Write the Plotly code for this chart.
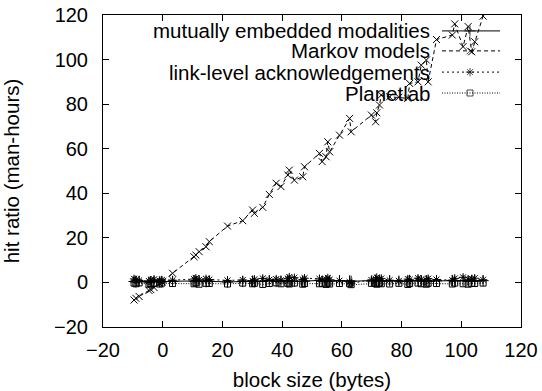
import plotly.graph_objects as go

# shared block sizes (bytes)
block_size = [-9.6, -9.0, -7.9, -4.6, -4.0, -2.9, -1.0, -0.3, 3.3, 10.5, 11.1, 12.2, 14.5, 15.6,
              21.7, 26.8, 30.1, 30.7, 33.5, 35.7, 38.0, 39.6, 41.9, 42.4, 44.1, 46.9, 47.5,
              52.5, 53.4, 54.7, 55.3, 55.9, 59.2, 62.6, 63.1, 69.9, 71.3, 71.7, 72.6, 73.2,
              76.0, 79.1, 82.1, 82.7, 85.5, 86.6, 88.3, 88.9, 91.7, 97.0, 97.8, 100.6, 102.3,
              103.5, 104.5, 107.3]

mutually_embedded = [0.4, 0.2, 0.5, 0.1, 0.3, 0.4, 0.2, 0.3, 0.5, 0.6,
                     0.4, 0.7, 0.3, 0.5, 0.2, 0.4, 0.6, 0.3, 0.5, 0.8,
                     0.4, 0.6, 0.3, 0.7, 0.5, 0.4, 0.6, 0.9, 0.5, 0.7,
                     0.4, 0.6, 0.8, 0.7, 0.5, 0.6, 0.9, 0.4, 0.7, 0.5,
                     0.8, 0.6, 0.5, 0.9, 0.7, 0.6, 0.8, 0.5, 0.7, 0.9,
                     0.6, 0.8, 0.5, 0.7, 0.6, 0.8]

markov_models = [-7.9, -7.1, -6.3, -3.6, -3.2, -2.3, -0.6, 0.3, 4.1, 11.5, 12.3, 13.8, 16.0, 18.3,
                 25.3, 27.7, 32.5, 31.0, 33.7, 39.5, 44.5, 43.0, 48.2, 50.4, 45.9, 47.4, 51.9,
                 57.9, 54.2, 56.4, 63.1, 58.6, 66.1, 73.6, 67.6, 75.1, 72.1, 76.1, 79.6, 84.1,
                 83.3, 83.1, 82.6, 89.3, 90.0, 97.5, 99.8, 90.0, 109.0, 111.0, 116.0, 105.8,
                 114.8, 103.5, 108.0, 119.5]

link_level = [1.6, 1.2, 0.9, 0.6, 1.0, 1.4, 0.8, 1.1, 1.0, 1.5,
              1.9, 1.2, 1.6, 1.3, 0.9, 1.1, 0.7, 1.4, 1.8, 1.2,
              1.5, 1.0, 1.7, 2.4, 2.1, 1.3, 1.9, 1.6, 1.0, 1.4,
              2.0, 1.2, 0.8, 0.2, -0.4, 1.1, 1.6, 2.2, 1.3, 1.8,
              1.0, 0.7, 1.5, 1.2, 1.9, 1.4, 1.1, 1.7, 1.3, 1.0,
              1.8, 2.3, 1.4, 1.6, 1.9, 1.2]

planetlab = [-0.3, -0.6, -0.2, -0.8, -0.5, -0.4, -0.7, -0.3, -0.5, -0.6,
             -0.2, -0.8, -0.4, -0.5, -0.7, -0.3, -0.6, -0.4, -0.9, -0.5,
             -0.2, -0.6, -0.4, -0.7, -0.3, -0.8, -0.5, -0.6, -0.4, -0.9,
             -0.3, -0.7, -0.5, -0.6, -1.0, -0.4, -0.5, -0.8, -0.3, -0.6,
             -0.7, -0.4, -0.9, -0.5, -0.3, -0.6, -0.8, -0.4, -0.5, -0.7,
             -0.3, -0.6, -0.8, -0.4, -0.5, -0.3]

series_names = ["mutually embedded modalities", "Markov models",
                "link-level acknowledgements", "Planetlab"]
x_ticks = [-20, 0, 20, 40, 60, 80, 100, 120]
y_ticks = [-20, 0, 20, 40, 60, 80, 100, 120]

FONT = "Liberation Sans, Arial, Helvetica, sans-serif"
TICK_FS = 20
TITLE_FS = 20.5
KEY_FS = 20.5

styles = [
    dict(dash="solid", symbol="cross-thin-open", size=8),
    dict(dash="4px,3px", symbol="x-thin-open", size=7),
    dict(dash="2px,3px", symbol="asterisk-open", size=7),
    dict(dash="1px,1.5px", symbol="square-open", size=6),
]
values = [mutually_embedded, markov_models, link_level, planetlab]

fig = go.Figure()
for name, ys, st in zip(series_names, values, styles):
    fig.add_trace(go.Scatter(
        x=block_size, y=ys, mode="lines+markers", name=name, showlegend=False,
        line=dict(color="black", width=1, dash=st["dash"]),
        marker=dict(symbol=st["symbol"], size=st["size"], color="black",
                    line=dict(color="black", width=1)),
    ))

# gnuplot-style key: right-aligned text with the line sample to its right
key_text_x = 0.785
key_line = (0.811, 0.878, 0.950)
key_rows = [0.949, 0.885, 0.817, 0.750]
for name, st, ky in zip(series_names, styles, key_rows):
    fig.add_trace(go.Scatter(
        x=list(key_line), y=[ky] * 3, xaxis="x2", yaxis="y2",
        mode="lines+markers", showlegend=False, hoverinfo="skip",
        line=dict(color="black", width=1, dash=st["dash"]),
        marker=dict(symbol=st["symbol"], size=[0, st["size"], 0], color="black",
                    line=dict(color="black", width=1)),
    ))
    fig.add_annotation(x=key_text_x, y=ky, xref="paper", yref="paper",
                       text=name, showarrow=False, xanchor="right", yanchor="middle",
                       borderpad=0,
                       font=dict(family=FONT, size=KEY_FS, color="black"))

axis_common = dict(
    showline=True, linecolor="black", linewidth=1, mirror="ticks",
    ticks="inside", ticklen=6, tickcolor="black", tickwidth=1,
    showgrid=False, zeroline=False, automargin=False,
    tickfont=dict(family=FONT, size=TICK_FS, color="black"),
)

fig.update_layout(
    width=542, height=391, autosize=False,
    margin=dict(l=103, r=21, t=15, b=64),
    paper_bgcolor="white", plot_bgcolor="white",
    font=dict(family=FONT, size=TICK_FS, color="black"),
    xaxis=dict(range=[-20, 120], tickvals=x_ticks, ticklabelstandoff=5,
               title=dict(text="block size (bytes)", standoff=12,
                          font=dict(family=FONT, size=TITLE_FS)),
               **axis_common),
    yaxis=dict(range=[-20, 120], tickvals=y_ticks, ticklabelstandoff=10,
               title=dict(text="hit ratio (man-hours)", standoff=28,
                          font=dict(family=FONT, size=TITLE_FS)),
               **axis_common),
    xaxis2=dict(overlaying="x", range=[0, 1], visible=False, fixedrange=True),
    yaxis2=dict(overlaying="y", range=[0, 1], visible=False, fixedrange=True),
    showlegend=False,
)

fig.write_html("out.html")
